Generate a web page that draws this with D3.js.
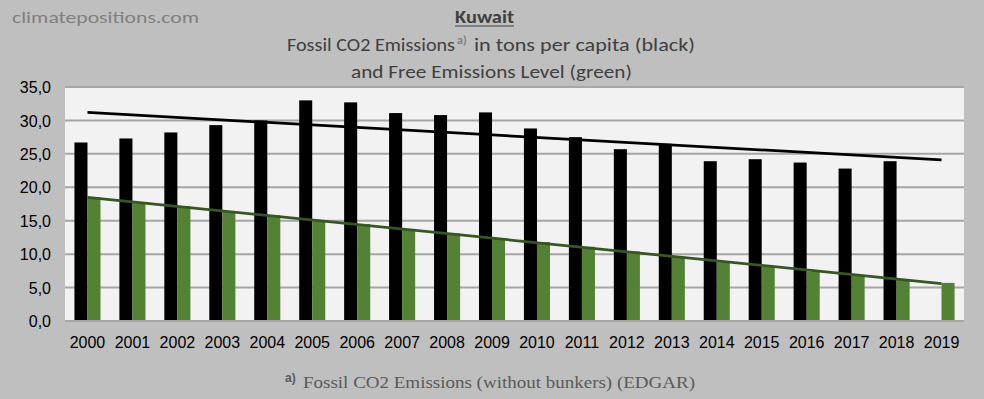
<!DOCTYPE html>
<html><head><meta charset="utf-8">
<script src="https://cdn.jsdelivr.net/npm/d3@7"></script>
<style>html,body{margin:0;padding:0;background:#bfbfbf;}</style>
</head><body>
<svg id="c" width="984" height="399"></svg>
<script>
const years = ["2000","2001","2002","2003","2004","2005","2006","2007","2008","2009","2010","2011","2012","2013","2014","2015","2016","2017","2018","2019"];
const emissions = [26.7,27.3,28.2,29.3,30.0,33.0,32.7,31.1,30.8,31.2,28.8,27.5,25.7,26.5,23.9,24.2,23.7,22.8,23.9,null];
const freeLevel = [18.5,17.8,17.2,16.4,15.8,15.1,14.5,13.7,13.1,12.4,11.8,11.1,10.4,9.6,8.8,8.1,7.4,6.8,6.2,5.7];
const trendBlack = [31.2,24.1];   // trend line at first and last year
const trendGreen = [18.5,5.6];
const yTicks = [0,5,10,15,20,25,30,35];

const svg = d3.select("#c");
const W=984,H=399;
svg.append("rect").attr("width",W).attr("height",H).attr("fill","#bfbfbf");
const m={l:65,r:964,t:87,b:321};
const x=d3.scaleBand().domain(years).range([m.l,m.r]).paddingInner(0.42).paddingOuter(0.21);
const xc=d3.scaleBand().domain(years).range([m.l,m.r]);
const y=d3.scaleLinear().domain([0,35]).range([m.b,m.t]);

svg.append("rect").attr("x",m.l).attr("y",m.t).attr("width",m.r-m.l).attr("height",m.b-m.t).attr("fill","#f2f2f2");
svg.append("g").selectAll("line").data(yTicks).join("line")
  .attr("x1",m.l).attr("x2",m.r).attr("y1",d=>y(d)).attr("y2",d=>y(d))
  .attr("stroke","#a6a6a6").attr("stroke-width",2);

const bw = x.bandwidth()/2;
svg.append("g").selectAll("rect").data(years.filter((d,i)=>emissions[i]!=null)).join("rect")
  .attr("x",d=>x(d)).attr("width",bw)
  .attr("y",d=>y(emissions[years.indexOf(d)])).attr("height",d=>y(0)-y(emissions[years.indexOf(d)]))
  .attr("fill","#000");
svg.append("g").selectAll("rect").data(years).join("rect")
  .attr("x",d=>x(d)+bw).attr("width",bw)
  .attr("y",(d,i)=>y(freeLevel[i])).attr("height",(d,i)=>y(0)-y(freeLevel[i]))
  .attr("fill","#548235");

svg.append("line").attr("x1",m.l).attr("x2",m.r).attr("y1",y(0)).attr("y2",y(0)).attr("stroke","#a6a6a6").attr("stroke-width",2);

const cx = d=>xc(d)+xc.bandwidth()/2;
const ends=[years[0],years[years.length-1]];
const line=d3.line().x(d=>cx(d[0])).y(d=>y(d[1]));
svg.append("path").attr("d",line(ends.map((d,i)=>[d,trendBlack[i]]))).attr("stroke","#000").attr("stroke-width",2.75).attr("fill","none");
svg.append("path").attr("d",line(ends.map((d,i)=>[d,trendGreen[i]]))).attr("stroke","#375623").attr("stroke-width",2.75).attr("fill","none");

const yAxis=d3.axisLeft(y).tickValues(yTicks).tickSize(0).tickPadding(0).tickFormat(d=>d3.format(".1f")(d).replace(".",","));
const ga=svg.append("g").attr("transform",`translate(${51},0)`).call(yAxis);
ga.select(".domain").remove();
ga.selectAll("text").attr("font-family","Liberation Sans, Arial, sans-serif").attr("font-size",16).attr("fill","#000").attr("dy","0.35em");
const xAxis=d3.axisBottom(xc).tickSize(0).tickPadding(0);
const gx=svg.append("g").attr("transform",`translate(0,${348})`).call(xAxis);
gx.select(".domain").remove();
gx.selectAll("text").attr("font-family","Liberation Sans, Arial, sans-serif").attr("font-size",16).attr("fill","#000").attr("dy",0);

const tf="Carlito, 'Open Sans', 'Noto Sans', sans-serif";
svg.append("text").attr("x",12).attr("y",23).attr("font-family",tf).attr("font-size",17).attr("fill","#7f7f7f")
  .attr("textLength",187).attr("lengthAdjust","spacingAndGlyphs").text("climatepositions.com");
svg.append("text").attr("x",455).attr("y",23).attr("font-family",tf).attr("font-weight","bold").attr("font-size",18).attr("fill","#404040")
  .attr("textLength",59).attr("lengthAdjust","spacingAndGlyphs").text("Kuwait");
svg.append("line").attr("x1",455).attr("x2",514).attr("y1",26).attr("y2",26).attr("stroke","#404040").attr("stroke-width",1.2);
const t2=svg.append("text").attr("y",51).attr("font-family",tf).attr("font-size",18).attr("fill","#404040");
t2.append("tspan").attr("x",287).attr("textLength",168).attr("lengthAdjust","spacingAndGlyphs").text("Fossil CO2 Emissions");
t2.append("tspan").attr("x",457).attr("dy",-7).attr("font-size",12).attr("font-weight","bold").attr("fill","#7f7f7f").text("a)");
t2.append("tspan").attr("x",474).attr("dy",7).attr("textLength",221).attr("lengthAdjust","spacingAndGlyphs").text("in tons per capita (black)");
svg.append("text").attr("x",351).attr("y",78).attr("font-family",tf).attr("font-size",18).attr("fill","#404040")
  .attr("textLength",281).attr("lengthAdjust","spacingAndGlyphs").text("and Free Emissions Level (green)");

const ft=svg.append("text").attr("y",388).attr("font-family","'Liberation Serif', 'Times New Roman', serif").attr("font-size",17).attr("fill","#595959");
ft.append("tspan").attr("x",285).attr("dy",-6).attr("font-family","Liberation Sans, Arial, sans-serif").attr("font-weight","bold").attr("font-size",12).text("a)");
ft.append("tspan").attr("x",303).attr("dy",6).attr("textLength",392).attr("lengthAdjust","spacingAndGlyphs").text("Fossil CO2 Emissions (without bunkers) (EDGAR)");
</script>
</body></html>
